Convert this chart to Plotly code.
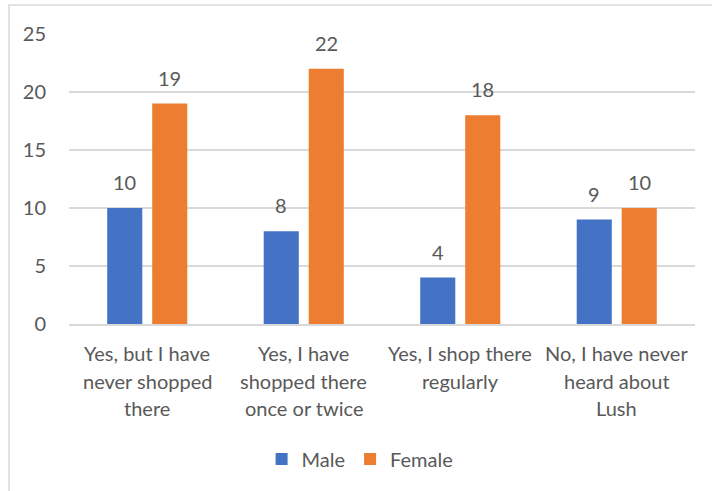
import plotly.graph_objects as go

# Survey responses: awareness of / shopping at Lush, by gender
categories = [
    "Yes, but I have<br>never shopped<br>there",
    "Yes, I have<br>shopped there<br>once or twice",
    "Yes, I shop there<br>regularly",
    "No, I have never<br>heard about<br>Lush",
]
male = [10, 8, 4, 9]
female = [19, 22, 18, 10]
y_ticks = [0, 5, 10, 15, 20, 25]

BLUE = "#4472C4"
ORANGE = "#ED7D31"
TEXT = "#595959"
GRID = "#D9D9D9"
FONT = "Lato"
FS = 20

W, H = 712, 491
ML, MR, MT, MB = 69, 17, 34, 167
plot_w = W - ML - MR
plot_h = H - MT - MB

keys = list(range(len(categories)))

fig = go.Figure()
fig.add_trace(go.Bar(name="Male", x=keys, y=male, marker=dict(color=BLUE, line=dict(width=0))))
fig.add_trace(go.Bar(name="Female", x=keys, y=female, marker=dict(color=ORANGE, line=dict(width=0))))

# value labels above each bar
slot = 45
for values, dx in ((male, -slot / 2), (female, slot / 2)):
    for k, v in zip(keys, values):
        fig.add_annotation(
            x=k, y=v, text=str(v), showarrow=False, xref="x", yref="y",
            xanchor="center", yanchor="bottom", xshift=dx, yshift=12,
            font=dict(family=FONT, size=FS, color=TEXT),
        )

# category labels, one annotation per line for Excel-like line spacing
for k, label in zip(keys, categories):
    for i, line in enumerate(label.split("<br>")):
        fig.add_annotation(
            x=k, y=0, text=line, showarrow=False, xref="x", yref="paper",
            xanchor="center", yanchor="middle", yshift=-29 - 27.5 * i,
            font=dict(family=FONT, size=FS, color=TEXT),
        )

# chart frame (top and left edges visible)
fx0 = (9 - ML) / plot_w
fy1 = (H - MB - 5) / plot_h
fig.add_shape(type="rect", xref="paper", yref="paper",
              x0=fx0, x1=1.5, y0=-2, y1=fy1,
              line=dict(color=GRID, width=1.5), fillcolor="rgba(0,0,0,0)", layer="below")

fig.update_layout(
    width=W, height=H,
    margin=dict(l=ML, r=MR, t=MT, b=MB, pad=0),
    paper_bgcolor="white", plot_bgcolor="white",
    barmode="group", bargap=0.425, bargroupgap=0.22,
    font=dict(family=FONT, size=FS, color=TEXT),
    showlegend=True,
    legend=dict(orientation="h", xanchor="center", x=0.465, yanchor="middle",
                y=(H - MB - 459) / plot_h, font=dict(family=FONT, size=FS, color=TEXT),
                bgcolor="rgba(0,0,0,0)"),
    xaxis=dict(range=[-0.5, len(categories) - 0.5], showticklabels=False, showgrid=False,
               zeroline=False, showline=True, linecolor=GRID, linewidth=1.5, ticks=""),
    yaxis=dict(range=[0, 25], tickvals=y_ticks, showgrid=True, gridcolor=GRID, gridwidth=1.5,
               zeroline=False, showline=False, ticks="", ticklabelstandoff=22,
               tickfont=dict(family=FONT, size=FS, color=TEXT)),
)

fig.write_html("out.html")
